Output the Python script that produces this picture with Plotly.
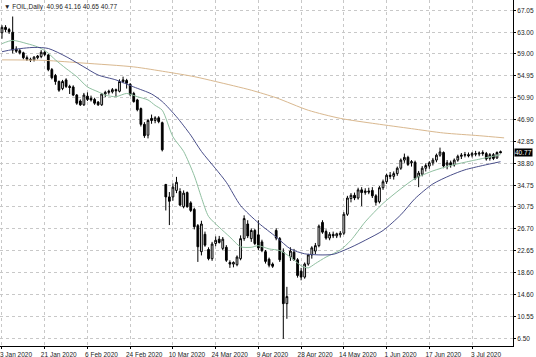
import plotly.graph_objects as go

# ---- OHLC data (daily bars) ----
open_ = [62.9, 63.9, 63.5, 63.0, 59.9, 59.6, 59.2, 58.3, 58.0, 57.9,
         58.3, 58.5, 59.3, 58.8, 56.1, 55.0, 53.9, 52.6, 54.2, 53.0,
         52.9, 51.4, 50.3, 49.6, 51.2, 50.8, 50.6, 50.1, 49.6, 51.6,
         51.9, 52.0, 52.4, 52.1, 53.9, 54.1, 53.4, 51.7, 50.5, 48.9,
         46.0, 44.0, 47.1, 46.7, 47.2, 46.3, 34.9, 32.6, 32.6, 33.8,
         33.6, 30.8, 33.4, 31.5, 30.3, 27.3, 22.5, 25.7, 22.9, 21.2,
         24.0, 24.8, 23.1, 23.3, 20.5, 20.2, 20.1, 21.2, 24.9, 27.6,
         24.9, 26.4, 25.6, 24.3, 22.5, 21.1, 20.2, 26.4, 24.9, 22.4,
         12.9, 21.5, 22.4, 21.0, 18.9, 17.8, 20.2, 21.9, 22.6, 23.6,
         27.9, 26.2, 25.0, 25.7, 25.4, 25.6, 25.9, 29.4, 32.3, 32.9,
         32.4, 33.9, 33.4, 33.7, 33.8, 32.8, 31.7, 34.3, 35.4, 36.6,
         36.4, 36.9, 37.9, 39.4, 39.9, 38.9, 39.0, 36.3, 36.8, 37.9,
         38.3, 38.9, 39.4, 40.3, 40.8, 38.5, 38.9, 38.5, 39.4, 40.1,
         40.3, 40.4, 40.3, 40.6, 40.5, 40.8, 40.6, 39.7, 40.4, 39.8,
         40.96]
high = [64.3, 64.3, 63.8, 65.9, 60.4, 59.9, 59.4, 58.7, 58.3, 58.6,
        58.8, 59.7, 59.6, 59.0, 56.4, 55.3, 54.1, 54.2, 54.5, 53.3,
        53.2, 51.6, 50.6, 51.8, 51.9, 51.3, 50.9, 50.3, 51.8, 52.2,
        52.4, 52.7, 52.6, 54.3, 54.8, 54.4, 53.6, 52.0, 50.7, 49.1,
        46.4, 47.0, 47.8, 47.5, 47.5, 46.5, 35.0, 33.5, 35.1, 36.3,
        34.2, 33.8, 33.6, 31.8, 30.6, 27.6, 28.2, 26.2, 23.3, 24.3,
        25.3, 25.4, 25.2, 23.7, 20.9, 20.7, 21.8, 25.5, 29.2, 28.3,
        26.8, 26.7, 28.3, 24.7, 22.8, 21.4, 20.5, 26.8, 25.2, 23.1,
        16.0, 23.3, 23.0, 21.3, 19.5, 20.5, 22.1, 23.5, 24.1, 27.5,
        28.3, 26.6, 26.1, 26.2, 26.0, 26.3, 29.8, 32.8, 33.3, 33.4,
        34.3, 34.4, 34.2, 34.3, 34.4, 33.1, 34.6, 35.8, 36.9, 37.2,
        37.3, 38.2, 39.7, 40.6, 40.2, 39.4, 39.3, 37.4, 38.3, 38.8,
        39.2, 39.8, 40.6, 41.7, 41.0, 39.4, 39.3, 39.7, 40.4, 40.7,
        40.9, 40.8, 40.9, 41.1, 41.0, 41.2, 40.9, 40.7, 40.7, 41.0,
        41.16]
low = [61.8, 63.0, 62.7, 59.1, 59.2, 58.9, 58.0, 57.7, 57.5, 57.6,
       58.0, 58.2, 58.6, 55.8, 54.3, 53.3, 52.0, 52.3, 52.7, 51.6,
       51.2, 49.6, 49.4, 49.4, 50.3, 50.2, 49.6, 49.4, 49.4, 51.0,
       51.5, 51.7, 51.1, 51.9, 53.6, 52.6, 51.2, 50.0, 48.4, 45.6,
       43.5, 43.4, 46.1, 46.2, 46.2, 41.0, 30.1, 27.4, 31.9, 33.3,
       30.9, 30.5, 30.6, 29.8, 26.6, 20.6, 21.8, 23.4, 20.9, 20.8,
       23.5, 24.0, 22.8, 20.6, 19.5, 19.6, 19.8, 20.9, 24.5, 25.0,
       24.3, 23.7, 22.8, 22.4, 20.3, 19.6, 19.5, 24.6, 20.6, 6.4,
       10.1, 20.8, 20.8, 17.7, 17.2, 17.5, 19.9, 21.2, 22.0, 23.3,
       25.8, 24.7, 24.6, 25.0, 25.0, 25.1, 25.6, 29.1, 31.6, 32.0,
       32.1, 30.9, 33.0, 33.1, 32.4, 31.0, 31.4, 33.9, 35.0, 35.9,
       35.8, 36.5, 37.6, 38.9, 38.3, 38.2, 35.7, 34.4, 36.4, 37.3,
       37.8, 38.4, 39.0, 40.0, 37.9, 37.7, 38.0, 38.2, 39.1, 39.6,
       39.9, 39.9, 39.9, 40.1, 40.1, 40.2, 39.3, 39.3, 39.4, 39.6,
       40.65]
close = [63.9, 63.5, 63.1, 59.7, 59.5, 59.2, 58.3, 58.0, 57.9, 58.4,
         58.6, 59.3, 58.9, 56.1, 54.6, 53.9, 52.3, 53.9, 53.0, 52.8,
         51.4, 49.9, 49.6, 51.4, 50.6, 50.5, 49.9, 49.6, 51.6, 51.9,
         52.1, 52.4, 52.2, 53.9, 54.2, 53.6, 51.5, 50.2, 48.7, 46.0,
         43.9, 46.7, 46.7, 47.2, 46.5, 41.3, 32.6, 31.8, 34.4, 35.3,
         31.1, 33.3, 30.8, 30.1, 27.1, 23.4, 27.6, 23.7, 21.2, 23.9,
         24.6, 24.2, 24.8, 20.9, 20.2, 20.5, 21.5, 24.9, 28.6, 25.4,
         26.4, 24.0, 23.2, 22.7, 20.7, 20.0, 19.8, 25.0, 21.0, 12.9,
         14.2, 22.6, 21.0, 18.1, 17.8, 20.2, 21.9, 23.2, 23.6, 27.2,
         26.1, 25.0, 25.7, 25.4, 25.8, 25.9, 29.4, 32.4, 32.9, 32.4,
         33.9, 33.4, 33.7, 33.5, 32.8, 31.6, 34.3, 35.4, 36.6, 36.4,
         36.9, 37.9, 39.4, 39.9, 38.6, 39.1, 36.0, 37.0, 37.9, 38.4,
         38.9, 39.4, 40.3, 40.9, 38.3, 38.9, 38.5, 39.4, 40.1, 40.3,
         40.4, 40.2, 40.6, 40.5, 40.7, 40.6, 39.6, 40.4, 39.7, 40.8,
         40.77]

# ---- moving averages, sampled at bar indices ----
ma_fast_idx = [0, 3, 7, 10, 12.5, 15, 18, 21, 24, 27, 29, 32, 35, 38, 41, 43, 45,
               48, 51, 54, 56, 58, 61, 64, 67, 70, 72, 75, 78, 81, 84, 86, 88,
               91, 95, 98, 102, 107, 112, 116, 121, 126, 130, 135, 140]
ma_fast_val = [60.9, 61.5, 60.9, 60.3, 59.4, 57.9, 56.3, 54.8, 52.9, 52.0, 51.4,
               51.1, 51.7, 51.1, 50.5, 49.5, 48.6, 43.7, 41.0, 36.5, 32.5, 29.0,
               27.0, 25.2, 23.4, 23.3, 23.6, 23.0, 22.7, 21.5, 19.9, 19.5, 20.3,
               21.5, 22.8, 24.6, 28.0, 31.4, 34.1, 36.0, 37.4, 38.4, 39.0, 39.7, 40.4]
ma_slow_idx = [0, 3, 9, 13, 18, 23, 27, 32, 37, 42, 45, 49, 53, 56, 60, 63, 67,
               72, 77, 81, 85, 89, 93, 98, 102, 107, 112, 116, 121, 126, 130, 135, 140]
ma_slow_val = [59.4, 59.8, 60.2, 60.0, 58.5, 56.6, 55.1, 54.2, 52.9, 51.6, 50.2,
               47.4, 44.0, 41.0, 37.8, 35.3, 31.0, 27.8, 25.2, 23.0, 22.1, 21.9,
               22.0, 23.3, 24.6, 26.4, 29.3, 32.3, 35.0, 36.6, 37.6, 38.4, 39.1]
ma_long_idx = [0, 12, 23, 37, 46, 54, 60, 70, 77, 86, 95, 105, 115, 124, 134, 141]
ma_long_val = [57.9, 57.8, 57.3, 56.6, 55.7, 54.8, 53.9, 52.3, 50.9, 48.6, 47.1,
               46.1, 45.2, 44.4, 43.9, 43.5]

# ---- axis labels ----
date_tick_idx = [0, 12, 24, 36, 48, 60, 72, 84, 96, 108, 120, 132]
date_labels = ["3 Jan 2020", "21 Jan 2020", "6 Feb 2020", "24 Feb 2020",
               "10 Mar 2020", "24 Mar 2020", "9 Apr 2020", "28 Apr 2020",
               "14 May 2020", "1 Jun 2020", "17 Jun 2020", "3 Jul 2020"]
price_ticks = [67.05, 63.00, 59.00, 54.95, 50.90, 46.90, 42.85, 38.80,
               34.75, 30.75, 26.70, 22.65, 18.60, 14.60, 10.55, 6.50]
symbol_title = "▼ FOIL,Daily  40.96 41.16 40.65 40.77"
last_price = 40.77

idx = list(range(len(close)))
FONT = "Liberation Sans, Arial, sans-serif"

fig = go.Figure()
fig.add_trace(go.Candlestick(
    x=idx, open=open_, high=high, low=low, close=close,
    increasing=dict(line=dict(color="#000000", width=1), fillcolor="#ffffff"),
    decreasing=dict(line=dict(color="#000000", width=1), fillcolor="#000000"),
    whiskerwidth=0, showlegend=False, hoverinfo="skip"))

for xs, ys, col in [(ma_long_idx, ma_long_val, "#D9B88F"),
                    (ma_fast_idx, ma_fast_val, "#8FBFA0"),
                    (ma_slow_idx, ma_slow_val, "#4A4F8A")]:
    fig.add_trace(go.Scatter(x=xs, y=ys, mode="lines",
                             line=dict(color=col, width=1, shape="spline", smoothing=0.7),
                             showlegend=False, hoverinfo="skip"))

fig.update_layout(
    width=536, height=357,
    margin=dict(l=0, r=23, t=0, b=11),
    paper_bgcolor="#ffffff", plot_bgcolor="#ffffff",
    font=dict(family=FONT, size=7, color="#222222"),
    showlegend=False,
    xaxis=dict(
        range=[-0.56, 143.5], tickmode="array", tickvals=date_tick_idx,
        ticktext=date_labels, showgrid=True, gridcolor="#C8C8C8", griddash="dot",
        gridwidth=1, showline=True, linecolor="#000000", linewidth=1,
        ticks="outside", ticklen=2, tickcolor="#000000",
        tickfont=dict(size=6.5, family=FONT, color="#222222"),
        ticklabelshift=14, ticklabelstandoff=0, ticklabeloverflow="allow",
        zeroline=False, rangeslider=dict(visible=False), automargin=False),
    yaxis=dict(
        side="right", range=[5.08, 68.95], tickmode="array",
        tickvals=price_ticks, ticktext=[f"{v:.2f}" for v in price_ticks],
        showgrid=True, gridcolor="#C8C8C8", griddash="dot", gridwidth=1,
        showline=True, linecolor="#000000", linewidth=1,
        ticks="outside", ticklen=2, tickcolor="#000000",
        tickfont=dict(size=6.5, family=FONT, color="#222222"),
        ticklabeloverflow="allow",
        zeroline=False, automargin=False),
)

fig.add_annotation(text=symbol_title, xref="paper", yref="paper", x=0.004, y=0.997,
                   xanchor="left", yanchor="top", showarrow=False,
                   font=dict(size=6.5, family=FONT, color="#222222"))
fig.add_annotation(text=f"{last_price:.2f}", xref="paper", yref="y", x=1.0, y=last_price,
                   xanchor="left", yanchor="middle", showarrow=False,
                   bgcolor="#000000", borderpad=0, xshift=1,
                   font=dict(size=6.5, family=FONT, color="#ffffff"))

fig.write_html("out.html", config={"displayModeBar": False},
               post_script="document.body.style.margin='0px';document.body.style.padding='0px';")
